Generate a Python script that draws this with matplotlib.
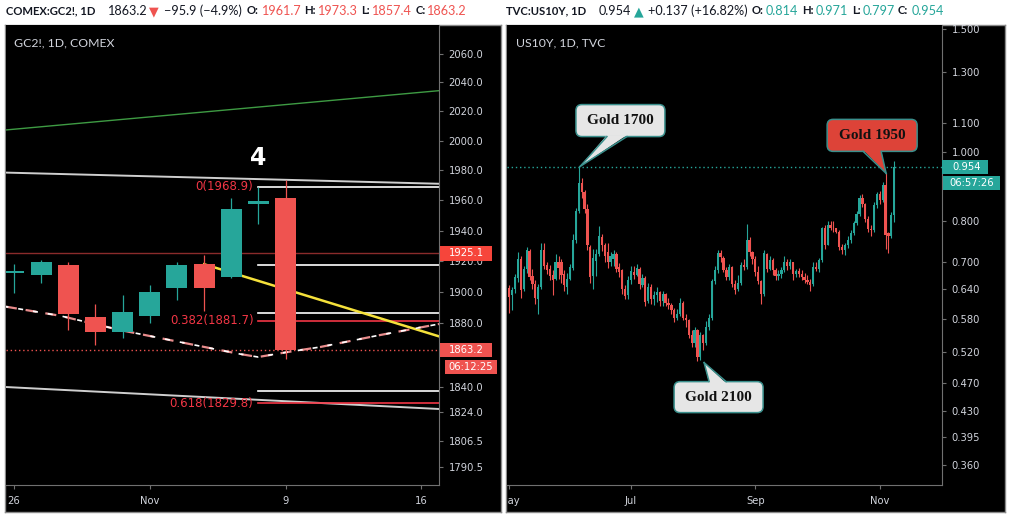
import matplotlib
matplotlib.use('Agg')
import matplotlib.pyplot as plt
from matplotlib.patches import Rectangle, FancyBboxPatch, Polygon
from matplotlib.lines import Line2D
from matplotlib.ticker import FixedLocator, FixedFormatter, NullLocator
from matplotlib.transforms import IdentityTransform, Bbox
import numpy as np

# ---------------- data ----------------
# GC2! daily candles, Oct 26 .. Nov 9 2020
gc_xticks = [0, 5, 10, 15]
gc_xlabels = ['26', 'Nov', '9', '16']
gc_open  = [1912.1, 1911.2, 1917.5, 1884.0, 1874.6, 1884.8, 1902.8, 1918.1, 1909.9, 1957.4, 1961.7]
gc_high  = [1918.1, 1920.7, 1919.2, 1892.3, 1898.1, 1904.7, 1919.4, 1924.0, 1961.3, 1968.9, 1973.3]
gc_low   = [1899.6, 1906.0, 1875.7, 1866.2, 1870.8, 1880.3, 1894.9, 1887.8, 1909.0, 1944.5, 1857.4]
gc_close = [1913.8, 1919.4, 1886.1, 1874.6, 1887.2, 1900.0, 1917.5, 1902.8, 1954.2, 1959.5, 1863.2]
gc_yticks = [2060, 2040, 2020, 2000, 1980, 1960, 1940, 1920, 1900, 1880, 1840, 1824, 1806.5, 1790.5]
gc_last = 1863.2
gc_level = 1925.1
fib_start = 9
fib_levels = [1968.9, 1881.7, 1829.8]
fib_names = ['0(1968.9)', '0.382(1881.7)', '0.618(1829.8)']
range_levels = [1917.3, 1886.5, 1837.1]
green_line = ([-0.3, 15.7], [2007.3, 2034.3])
upper_channel = ([-0.3, 15.7], [1978.5, 1971.0])
lower_channel = ([-0.3, 15.7], [1839.8, 1826.1])
yellow_line = ([7.0, 15.7], [1918.0, 1871.4])
curve_x = [-0.3, 1.69, 3.90, 5.75, 7.40, 8.32, 8.99, 10.17, 11.27, 13.48, 15.7]
curve_y = [1890.6, 1884.8, 1875.7, 1869.3, 1863.6, 1860.5, 1858.6, 1862.0, 1864.9, 1872.5, 1879.7]
wave_label = (9, 1988.0, '4')

# US10Y daily candles, May 1 .. Nov 9 2020 (134 sessions)
us_open = [.641, .628, .640, .664, .706, .640, .684, .725, .668, .650, .620, .645, .728, .692, .684, .670, .662, .700, .698, .672,
           .645, .662, .686, .752, .826, .904, .880, .832, .735, .668, .702, .718, .758, .740, .722, .698, .706, .718, .688, .680, .640, .628,
           .660, .676, .670, .684, .648, .664, .616, .645, .620, .628, .634, .616, .630, .612, .608, .598, .582, .590, .612, .582, .578, .550,
           .536, .560, .512, .550, .536, .566, .582, .656, .680, .720, .708, .682, .665, .688, .650, .640, .652, .692, .688, .752, .722,
           .705, .676, .656, .630, .718, .684, .704, .680, .668, .672, .680, .700, .690, .698, .672, .678, .672, .666, .660, .655, .650,
           .688, .684, .704, .780, .740, .790, .782, .780, .772, .734, .726, .738, .752, .768, .794, .818, .862, .844, .804, .778, .775, .842,
           .872, .855, .900, .768, .762, .814]
us_high = [.648, .645, .672, .722, .712, .690, .735, .730, .684, .660, .650, .745, .745, .700, .692, .680, .718, .712, .705, .680,
           .675, .695, .765, .835, .957, .920, .885, .845, .738, .730, .730, .786, .765, .745, .745, .722, .726, .722, .696, .684, .648, .668,
           .690, .690, .695, .688, .672, .668, .652, .650, .636, .645, .636, .636, .632, .622, .612, .602, .600, .622, .616, .590, .580, .560,
           .566, .562, .556, .552, .576, .590, .662, .690, .728, .726, .712, .688, .695, .690, .660, .670, .700, .705, .792, .758, .725,
           .712, .690, .660, .728, .720, .712, .708, .686, .680, .688, .712, .705, .706, .700, .684, .686, .680, .675, .670, .662, .700,
           .700, .708, .785, .790, .800, .800, .798, .782, .775, .742, .745, .760, .775, .800, .826, .870, .872, .848, .812, .790, .850, .880,
           .882, .908, .934, .772, .824, .971]
us_low = [.592, .598, .632, .655, .622, .636, .675, .658, .640, .610, .590, .640, .683, .672, .660, .628, .658, .662, .652, .636,
          .630, .658, .680, .745, .820, .862, .820, .728, .652, .640, .668, .712, .725, .700, .686, .690, .690, .676, .665, .630, .620, .620,
          .650, .662, .668, .640, .645, .606, .612, .610, .608, .614, .605, .606, .606, .600, .590, .575, .578, .586, .578, .565, .545, .530,
          .530, .505, .508, .525, .532, .560, .578, .650, .675, .700, .676, .660, .660, .645, .630, .636, .648, .680, .684, .712, .695,
          .668, .650, .610, .625, .676, .680, .670, .660, .660, .664, .676, .680, .683, .660, .665, .666, .660, .652, .650, .635, .646,
          .678, .676, .700, .730, .738, .775, .772, .768, .728, .718, .715, .732, .745, .764, .790, .812, .836, .796, .772, .760, .770, .835,
          .846, .850, .730, .720, .756, .797]
us_close = [.624, .638, .666, .706, .638, .684, .727, .665, .650, .622, .645, .728, .690, .681, .668, .660, .700, .686, .670, .648,
            .662, .688, .752, .826, .904, .880, .830, .738, .666, .708, .718, .760, .740, .712, .700, .712, .718, .684, .676, .640, .626, .660,
            .678, .670, .686, .650, .664, .614, .645, .620, .628, .634, .616, .630, .612, .608, .597, .582, .590, .612, .582, .578, .550, .536,
            .560, .512, .550, .536, .566, .582, .656, .680, .720, .710, .682, .665, .688, .650, .638, .652, .692, .688, .752, .722, .705,
            .676, .656, .630, .720, .684, .704, .680, .668, .672, .680, .700, .690, .698, .672, .678, .672, .666, .660, .655, .648, .688,
            .684, .704, .780, .740, .790, .782, .780, .772, .734, .726, .738, .752, .768, .794, .818, .862, .844, .804, .778, .775, .842, .872,
            .855, .900, .764, .762, .815, .954]
us_xticks = [0, 42, 85, 128]
us_xlabels = ['May', 'Jul', 'Sep', 'Nov']
us_yticks = [1.5, 1.3, 1.1, 1.0, 0.8, 0.7, 0.64, 0.58, 0.52, 0.47, 0.43, 0.395, 0.36]
us_last = 0.954
ann_idx = [24.4, 67.3, 130.2]
ann_val = [0.955, 0.503, 0.934]
ann_text = ['Gold 1700', 'Gold 2100', 'Gold 1950']

left_header = [("COMEX:GC2!, 1D", 6, 'bold', 'd'), ("1863.2", 108, 'normal', 'd'), ("▼", 149, 'normal', 'r'),
               ("−95.9 (−4.9%)", 164, 'normal', 'd'), ("O:", 247, 'bold', 'd'), ("1961.7", 262, 'normal', 'r'),
               ("H:", 304, 'bold', 'd'), ("1973.3", 318, 'normal', 'r'), ("L:", 361, 'bold', 'd'),
               ("1857.4", 372, 'normal', 'r'), ("C:", 416, 'bold', 'd'), ("1863.2", 427, 'normal', 'r')]
right_header = [("TVC:US10Y, 1D", 506, 'bold', 'd'), ("0.954", 599, 'normal', 'd'), ("▲", 634, 'normal', 'g'),
                ("+0.137 (+16.82%)", 648, 'normal', 'd'), ("O:", 752, 'bold', 'd'), ("0.814", 766, 'normal', 'g'),
                ("H:", 802, 'bold', 'd'), ("0.971", 816, 'normal', 'g'), ("L:", 852, 'bold', 'd'),
                ("0.797", 863, 'normal', 'g'), ("C:", 898, 'bold', 'd'), ("0.954", 912, 'normal', 'g')]

# ---------------- style ----------------
W, H = 1009, 514
UP = '#26a69a'
DOWN = '#ef5350'
DARK = '#131722'
BORDER = '#8a8a8a'
AXTXT = '#d1d4dc'
FAM = ['Lato', 'DejaVu Sans']
cmap = {'d': DARK, 'r': DOWN, 'g': UP}

fig = plt.figure(figsize=(W / 100, H / 100), dpi=100, facecolor='white')
ID = IdentityTransform()
renderer = fig.canvas.get_renderer()


def fit_size(text, target_px, weight):
    t = fig.text(0, 0, text, fontsize=10, fontweight=weight, family=FAM)
    w = t.get_window_extent(renderer).width
    t.remove()
    return 10 * target_px / w


def pane(x0, x1):
    bg = fig.add_axes([x0 / W, 1 - 512 / H, (x1 - x0) / W, 487 / H])
    bg.set_facecolor('black')
    bg.set_xticks([]); bg.set_yticks([])
    for s in bg.spines.values():
        s.set_color(BORDER); s.set_linewidth(1.0)
    return bg


def main_axes(x0, x1):
    ax = fig.add_axes([x0 / W, 1 - 485 / H, (x1 - x0) / W, 460 / H])
    ax.set_facecolor('black')
    ax.set_yscale('log')
    ax.spines['top'].set_visible(False)
    ax.spines['left'].set_visible(False)
    ax.spines['right'].set_color('#707070')
    ax.spines['bottom'].set_color('#707070')
    ax.yaxis.tick_right()
    ax.tick_params(axis='both', colors='#707070', labelcolor=AXTXT, labelsize=7.2, length=3, width=0.8)
    ax.tick_params(axis='y', pad=4)
    ax.tick_params(axis='x', pad=5)
    ax.yaxis.set_minor_locator(NullLocator())
    return ax


def candles(ax, o, h, l, c, width, wlw):
    o, h, l, c = map(np.asarray, (o, h, l, c))
    x = np.arange(len(o))
    col = [UP if cc >= oo else DOWN for oo, cc in zip(o, c)]
    ax.vlines(x, l, h, colors=col, lw=wlw, zorder=3)
    ax.bar(x, np.abs(c - o), bottom=np.minimum(o, c), width=width, color=col, zorder=4, linewidth=0)


def tag(ax, val, text, fc, x0, w, h, dy=0, tx=None):
    yc = ax.transData.transform((0, val))[1] - dy
    fig.add_artist(Rectangle((x0, yc - h / 2), w, h, transform=ID, fc=fc, ec='none', zorder=10))
    if tx is None:
        fig.text(x0 + w / 2, yc, text, transform=ID, color='white', fontsize=7.2, ha='center', va='center',
                 zorder=11, family='DejaVu Sans')
    else:
        fig.text(tx, yc, text, transform=ID, color='white', fontsize=7.2, ha='left', va='center',
                 zorder=11, family='DejaVu Sans')


title_size = fit_size('GC2!, 1D, COMEX', 100, 'normal')

# ---------------- left pane ----------------
pane(5, 501)
ax1 = main_axes(6, 439)
ax1.set_xlim(-0.295, 15.65)
ax1.set_ylim(1779.7, 2080.0)
ax1.yaxis.set_major_locator(FixedLocator(gc_yticks))
ax1.yaxis.set_major_formatter(FixedFormatter([f'{v:.1f}' for v in gc_yticks]))
ax1.xaxis.set_major_locator(FixedLocator(gc_xticks))
ax1.xaxis.set_major_formatter(FixedFormatter(gc_xlabels))

ax1.plot(*green_line, color='#3e9b43', lw=1.0, zorder=2)
ax1.plot(*upper_channel, color='#cfcfcf', lw=1.4, zorder=2)
ax1.plot(*lower_channel, color='#cfcfcf', lw=1.4, zorder=2)
ax1.axhline(gc_level, color='#8a2b2b', lw=1.0, zorder=1)
ax1.axhline(gc_last, color=DOWN, lw=1.0, ls=(0, (1, 2)), zorder=1)
for lv in range_levels:
    ax1.plot([fib_start, 15.7], [lv, lv], color='white', lw=1.2, zorder=2)
for k, (lv, nm) in enumerate(zip(fib_levels, fib_names)):
    ax1.plot([fib_start, 15.7], [lv, lv], color='white' if k == 0 else '#f23645', lw=1.2, zorder=2)
    ax1.annotate(nm, xy=(fib_start, lv), xytext=(-5, 0), textcoords='offset pixels', ha='right', va='center',
                 color='#f23645', fontsize=8.5, family='DejaVu Sans', zorder=6)
ax1.plot(*yellow_line, color='#f5e13b', lw=1.8, zorder=2)
ax1.plot(curve_x, curve_y, color='#e88c8c', lw=1.6, ls=(0, (5, 4)), zorder=2)
ax1.plot(curve_x, curve_y, color='white', lw=1.2, ls=(1.5, (3, 6)), zorder=2)
candles(ax1, gc_open, gc_high, gc_low, gc_close, 0.77, 0.9)
ax1.text(wave_label[0], wave_label[1], wave_label[2], color='white', fontsize=17, fontweight='bold',
         ha='center', va='center', family='DejaVu Sans', zorder=6)
fig.text(14 / W, 1 - 43 / H, 'GC2!, 1D, COMEX', color=AXTXT, fontsize=title_size, ha='left', va='center', family=FAM)

tag(ax1, gc_level, '1925.1', '#f6453b', 440, 52, 15, tx=449)
tag(ax1, gc_last, '1863.2', '#ef5350', 440, 52, 14, tx=449)
tag(ax1, gc_last, '06:12:25', '#ef5350', 445, 52, 14, dy=17.5)

# ---------------- right pane ----------------
pane(506, 1005)
ax2 = main_axes(507, 942)
ax2.set_xlim(-0.8, 149.5)
ax2.set_ylim(0.3371, 1.5173)
ax2.yaxis.set_major_locator(FixedLocator(us_yticks))
ax2.yaxis.set_major_formatter(FixedFormatter([f'{v:.3f}' for v in us_yticks]))
ax2.xaxis.set_major_locator(FixedLocator(us_xticks))
ax2.xaxis.set_major_formatter(FixedFormatter(us_xlabels))
ax2.axhline(us_last, color=UP, lw=1.0, ls=(0, (1, 2)), zorder=1)
candles(ax2, us_open, us_high, us_low, us_close, 0.78, 0.8)
fig.text(516 / W, 1 - 43 / H, 'US10Y, 1D, TVC', color=AXTXT, fontsize=title_size, ha='left', va='center', family=FAM)
tag(ax2, us_last, '0.954', UP, 942, 46, 14.5, tx=952)
tag(ax2, us_last, '06:57:26', UP, 943, 57, 14.5, dy=16.2)

# callouts: (box dx0, dx1, dy0, dy1, tail base dx0, dx1) relative to tip, screen pixels (y down)
callout_geom = [(-4, 85, -62, -30, 27, 47), (-30, 59, 19, 50, 5, 22), (-59, 31, -54, -22, -23, -5)]
callout_fc = ['#e6e6e6', '#e6e6e6', '#dd4338']
for idx, val, txt, g, fc in zip(ann_idx, ann_val, ann_text, callout_geom, callout_fc):
    tx, ty = ax2.transData.transform((idx, val))
    bx0, bx1, by0, by1, t0, t1 = g
    x0, x1 = tx + bx0, tx + bx1
    ytop, ybot = ty - by0, ty - by1
    fig.add_artist(FancyBboxPatch((x0, ybot), x1 - x0, ytop - ybot, boxstyle='round,pad=0,rounding_size=6',
                                  transform=ID, fc=fc, ec='#3a8f8c', lw=1.1, zorder=12))
    base_y = ybot if by0 < 0 else ytop
    inner = 1.5 if by0 < 0 else -1.5
    fig.add_artist(Polygon([(tx + t0, base_y + inner), (tx + t1, base_y + inner), (tx, ty)], closed=True,
                           transform=ID, fc=fc, ec='none', zorder=13))
    fig.add_artist(Line2D([tx + t0, tx], [base_y, ty], transform=ID, color='#3a8f8c', lw=1.1, zorder=13))
    fig.add_artist(Line2D([tx + t1, tx], [base_y, ty], transform=ID, color='#3a8f8c', lw=1.1, zorder=13))
    fig.text((x0 + x1) / 2, (ytop + ybot) / 2, txt, transform=ID, ha='center', va='center', fontsize=11,
             fontweight='bold', color='#111111', family=['Liberation Serif', 'DejaVu Serif'], zorder=14)

# ---------------- headers ----------------
head_bold = fit_size('TVC:US10Y, 1D', 80, 'bold')
head_norm = fit_size('+0.137 (+16.82%)', 99, 'normal')
for pieces in (left_header, right_header):
    for s, x, wt, c in pieces:
        fig.text(x / W, 1 - 11 / H, s, color=cmap[c], fontsize=head_bold if wt == 'bold' else head_norm,
                 fontweight=wt, ha='left', va='center', family=FAM)

# clip time-axis labels to their pane
fig.canvas.draw()
for ax, (xa, xb) in ((ax1, (5, 501)), (ax2, (507, 1005))):
    for lbl in ax.xaxis.get_ticklabels():
        lbl.set_clip_on(True)
        lbl.set_clip_box(Bbox([[xa, 0], [xb, H]]))

fig.savefig('out.png', dpi=100, facecolor='white')
